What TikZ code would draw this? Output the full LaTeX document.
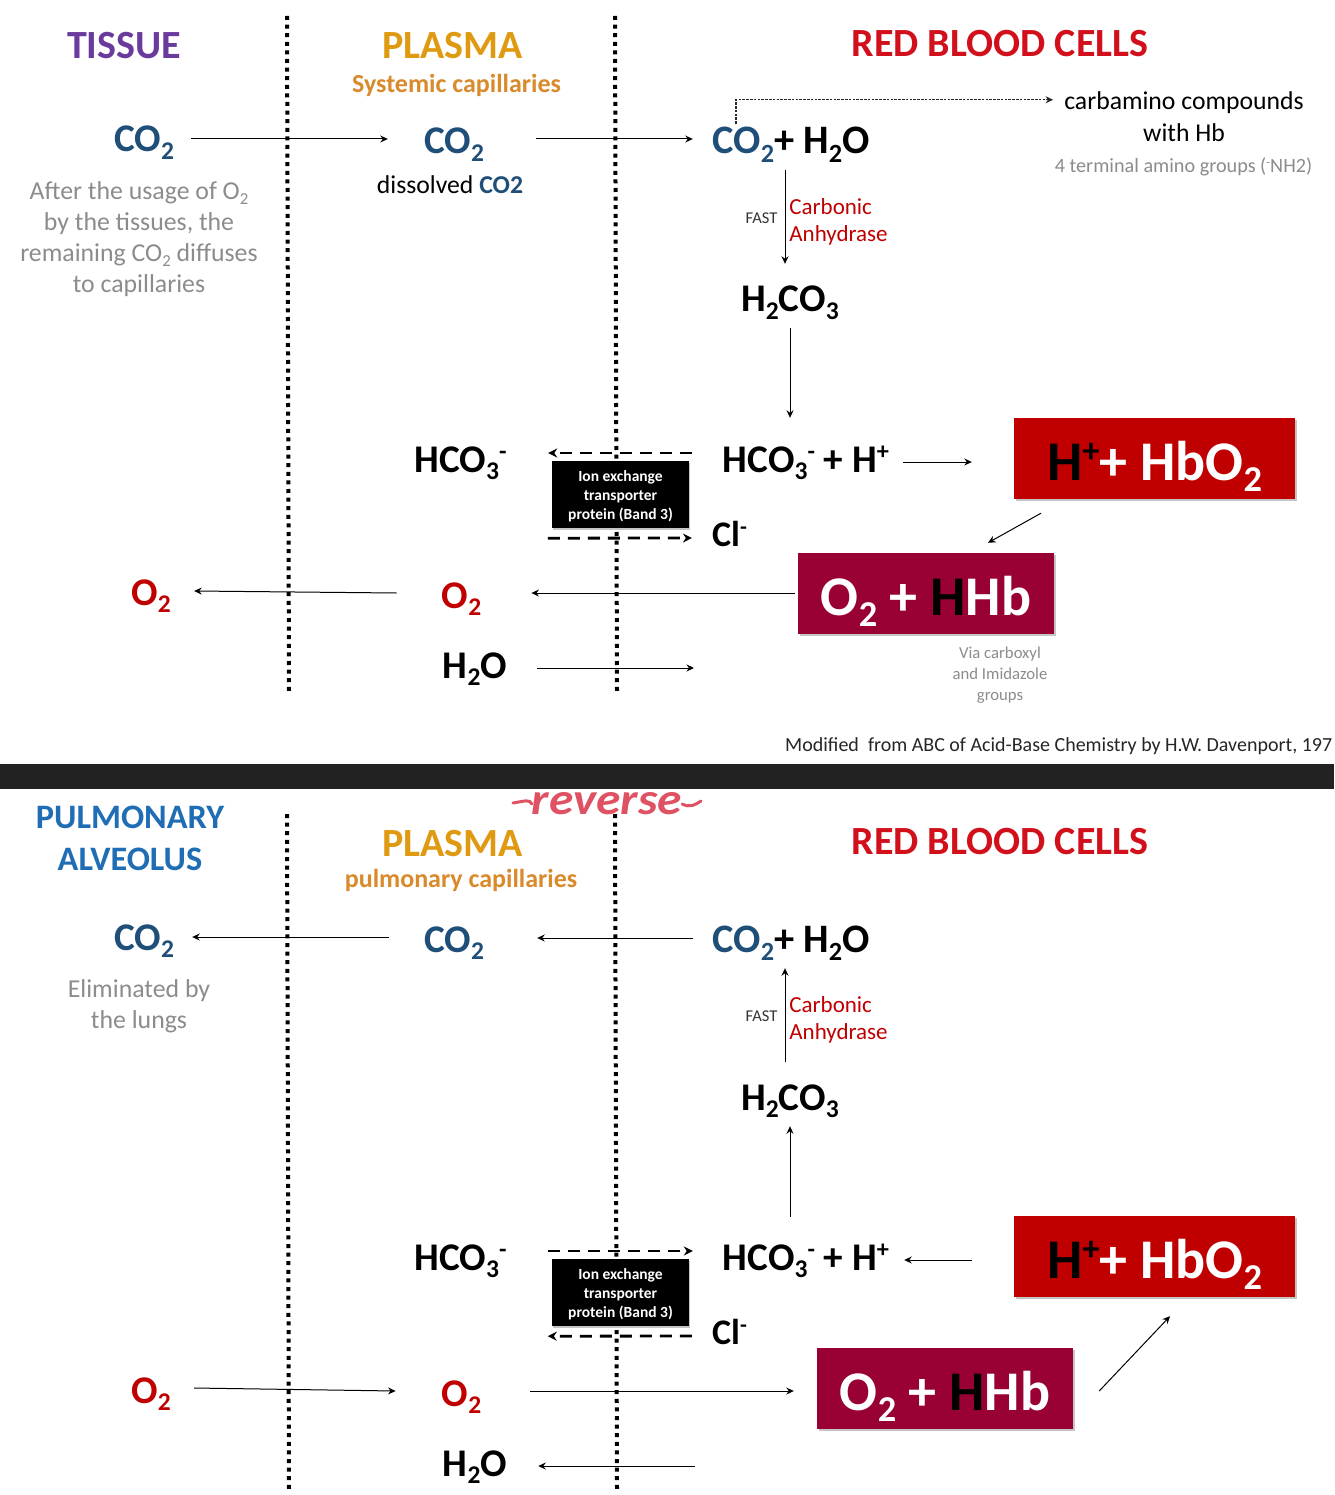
\documentclass[tikz,border=0pt]{standalone}
\usepackage{fontspec}
\setmainfont{Carlito}
\usetikzlibrary{arrows.meta,shadows}
\definecolor{cblue}{HTML}{1F4E79}
\definecolor{cred}{HTML}{C00000}
\definecolor{cbrick}{HTML}{C00000}
\definecolor{cmaroon}{HTML}{990033}
\definecolor{cgray}{HTML}{8C8C8C}
\definecolor{corange}{HTML}{E09A12}
\definecolor{corange2}{HTML}{D98A2B}
\definecolor{cpurple}{HTML}{6A3A9C}
\definecolor{crbc}{HTML}{D2101C}
\definecolor{cpulm}{HTML}{1F6DB4}
\definecolor{cband}{HTML}{222222}
\definecolor{cpink}{HTML}{DF5263}
\newcommand\dn[1]{\raisebox{-.2em}{\scalebox{.65}{#1}}}
\newcommand\ups[1]{\raisebox{.32em}{\scalebox{.62}{#1}}}
\newcommand\fs[2]{\fontsize{#1}{#2}\selectfont}
\tikzset{
  x=1pt,y=-1pt,
  arr/.style={draw=black,line width=1pt,-{Stealth[length=7.5pt,width=7pt]}},
  dash arr/.style={draw=black,line width=2.8pt,dash pattern=on 12pt off 8pt,-{Stealth[length=9pt,width=9pt]}},
  dot arr/.style={draw=black!85,line width=1.2pt,dash pattern=on 2.6pt off 1.2pt,-{Stealth[length=7.5pt,width=7pt]}},
  sep line/.style={draw=black,line width=4pt,dash pattern=on 4pt off 4.6pt},
  chem/.style={inner sep=0pt,minimum height=40pt,minimum width=#1,text height=22pt,text depth=0pt,font=\fs{39.2}{44}\bfseries,align=center,text=black},
  head/.style={inner sep=0pt,font=\fs{40}{42}\bfseries,align=center},
  note/.style={inner sep=0pt,font=\fs{25.8}{31},align=center,text=cgray},
  sub head/.style={inner sep=0pt,font=\fs{26}{30}\bfseries,align=center},
  enzyme/.style={inner sep=0pt,font=\fs{23}{27},align=left,text=cred},
  fast/.style={inner sep=0pt,font=\fs{16.5}{18},text=black!80},
  ion/.style={fill=black,text=white,inner sep=0pt,minimum width=137pt,minimum height=67pt,font=\fs{15.5}{19}\bfseries,align=center,drop shadow={shadow xshift=1pt,shadow yshift=-1.5pt,opacity=.45}},
  box/.style={fill=#1,text=white,inner sep=0pt,minimum height=81pt,text height=44pt,text depth=0pt,font=\fs{56}{60}\bfseries,drop shadow={shadow xshift=1.5pt,shadow yshift=-2pt,opacity=.45}},
}
\newcommand\sharednodes[2]{%
\begin{scope}[shift={(0,#2)}]
  \node[chem=60pt,text=cblue] (#1tco) at (144,141) {CO\dn{2}};
  \node[chem=60pt,text=cblue] (#1pco) at (454,143) {CO\dn{2}};
  \node[chem=158pt,font=\fs{40.4}{44}\bfseries] (#1rx) at (791,143) {\textcolor{cblue}{CO\dn{2}}+ H\dn{2}O};
  \node[chem=98pt] (#1hc) at (790,301) {H\dn{2}CO\dn{3}};
  \node[chem=93pt] (#1hl) at (460.5,461) {HCO\dn{3}\ups{-}};
  \node[chem=168pt] (#1hr) at (806,461) {HCO\dn{3}\ups{-} + H\ups{+}};
  \node[chem=33pt,font=\fs{36}{40}\bfseries,text height=25pt] (#1cl) at (729.5,534) {Cl\ups{-}};
  \node[chem=40pt,text=cred] (#1ot) at (151,594) {O\dn{2}};
  \node[chem=39pt,text=cred] (#1op) at (461.5,597) {O\dn{2}};
  \node[chem=64pt] (#1wa) at (475,667) {H\dn{2}O};
  \node[ion] (#1ion) at (620.5,494.5) {\rule{0pt}{15pt}Ion exchange\\transporter\\protein (Band 3)};
  \node[box=cbrick,minimum width=281pt] (#1rbc) at (1154.5,458.5) {\textcolor{black}{H\ups{+}}+ HbO\dn{2}};
  \node[enzyme] (#1enz) at (838.5,222) {Carbonic\\Anhydrase};
  \node[fast] (#1fast) at (761.5,218) {FAST};
  \node[head,text=crbc] (#1rbch) at (1000,44) {RED BLOOD CELLS};
  \node[head,text=corange] (#1plh) at (452.5,46) {PLASMA};
\end{scope}}
\begin{document}
\begin{tikzpicture}
\useasboundingbox (0,0) rectangle (1334,1495);
\fill[white] (0,0) rectangle (1334,1495);
% separators
\coordinate (s1a) at (287,16); \coordinate (s1b) at (289,692);
\coordinate (s2a) at (615,16); \coordinate (s2b) at (617,692);
\coordinate (s3a) at (287,814); \coordinate (s3b) at (289,1490);
\coordinate (s4a) at (615,814); \coordinate (s4b) at (617,1490);
\draw[sep line] (s1a) -- (s1b);
\draw[sep line] (s2a) -- (s2b);
\draw[sep line] (s3a) -- (s3b);
\draw[sep line] (s4a) -- (s4b);
\fill[cband] (0,764) rectangle (1334,789);
\sharednodes{a}{0}
\sharednodes{b}{798}
% top panel only
\node[box=cmaroon,minimum width=256pt] (amar) at (926,593.5) {O\dn{2} + \textcolor{black}{H}Hb};
\node[head,text=cpurple] (tissue) at (124,46) {TISSUE};
\node[sub head,text=corange2] (syst) at (456.5,85) {Systemic capillaries};
\node[inner sep=0pt,font=\fs{25.7}{30},text=black] (diss) at (450,185) {dissolved \textbf{\textcolor{cblue}{CO2}}};
\node[note] (para) at (139,239) {After the usage of O\dn{2}\\by the tissues, the\\remaining CO\dn{2} diffuses\\to capillaries};
\node[inner sep=0pt,font=\fs{25.7}{32},align=center,text=black] (carb) at (1184,117) {carbamino compounds\\with Hb};
\node[inner sep=0pt,font=\fs{20.2}{24},text=cgray] (term) at (1183.5,167) {4 terminal amino groups (\ups{-}NH2)};
\node[inner sep=0pt,font=\fs{16.7}{21},align=center,text=cgray] (via) at (1000,675) {Via carboxyl\\and Imidazole\\groups};
\node[inner sep=0pt,font=\fs{20}{24},text=black!85,anchor=west] (mod) at (785,746.5) {Modified\ \ from ABC of Acid-Base Chemistry by H.W. Davenport, 197};
% bottom panel only
\node[box=cmaroon,minimum width=256pt] (bmar) at (945,1388.5) {O\dn{2} + \textcolor{black}{H}Hb};
\node[head,font=\fs{34.3}{42}\bfseries,text=cpulm] (pulm) at (130,838.5) {PULMONARY\\ALVEOLUS};
\node[sub head,text=corange2] (pcap) at (461,880) {pulmonary capillaries};
\node[note] (elim) at (139,1006) {Eliminated by\\the lungs};
\node[inner sep=0pt,text=cpink] (rev) at (607,804) {\resizebox{150pt}{22pt}{\bfseries\itshape reverse}};
\coordinate (rl) at (513,803); \coordinate (rr) at (701,801);
\draw[cpink,line width=3pt,line cap=round] (rl) .. controls (525,801) and (530,799) .. (rev.west);
\draw[cpink,line width=3pt,line cap=round] (rev.east) .. controls (690,808) and (695,805) .. (rr);
% free ends
\coordinate (aend) at (694,668);
\coordinate (bend) at (695,1466);
% top connectors
\draw[arr] ([shift={(17,-2)}]atco.east) -- ([shift={(-36,-4)}]apco.west);
\draw[arr] ([shift={(52,-4)}]apco.east) -- ([shift={(-19,-4)}]arx.west);
\draw[dot arr] ([shift={(-55,1)}]arx.north) |- ([shift={(-11,8)}]carb.west |- carb.north);
\draw[arr] ([shift={(-6,7)}]arx.south) -- ([shift={(-5,-17)}]ahc.north);
\draw[arr] ([shift={(0,7)}]ahc.south) -- ([shift={(-16,-23)}]ahr.north);
\draw[dash arr] ([shift={(-30,-8)}]ahr.west) -- ([shift={(41,-8)}]ahl.east);
\draw[dash arr] ([shift={(-4,10)}]aion.south west) -- ([shift={(-20,4)}]acl.west);
\draw[arr] ([shift={(13,1)}]ahr.east) -- ([shift={(-42,3.5)}]arbc.west);
\draw[arr] ([shift={(-113.5,14)}]arbc.south) -- ([shift={(62,-10)}]amar.north);
\draw[arr] ([shift={(-3,-.5)}]amar.west) -- ([shift={(50,-4)}]aop.east);
\draw[arr] ([shift={(-45,-4)}]aop.west) -- ([shift={(23,-3)}]aot.east);
\draw[arr] ([shift={(30,1)}]awa.east) -- (aend);
% bottom connectors
\draw[arr] ([shift={(-35,-4)}]bpco.west) -- ([shift={(18,-2)}]btco.east);
\draw[arr] ([shift={(-19,-3)}]brx.west) -- ([shift={(53,-3)}]bpco.east);
\draw[arr] ([shift={(-5,-17)}]bhc.north) -- ([shift={(-6,7)}]brx.south);
\draw[arr] ([shift={(-16,-22)}]bhr.north) -- ([shift={(0,7)}]bhc.south);
\draw[dash arr] ([shift={(41,-8)}]bhl.east) -- ([shift={(-29,-8)}]bhr.west);
\draw[dash arr] ([shift={(-20,4)}]bcl.west) -- ([shift={(-4,10)}]bion.south west);
\draw[arr] ([shift={(-42,3.5)}]brbc.west) -- ([shift={(14,1)}]bhr.east);
\draw[arr] ([shift={(26,2.5)}]bmar.east) -- ([shift={(15.5,19)}]brbc.south);
\draw[arr] ([shift={(23,-4)}]bot.east) -- ([shift={(-46,-4)}]bop.west);
\draw[arr] ([shift={(49,-4)}]bop.east) -- ([shift={(-23,2.5)}]bmar.west);
\draw[arr] (bend) -- ([shift={(31,1)}]bwa.east);
\end{tikzpicture}
\end{document}
